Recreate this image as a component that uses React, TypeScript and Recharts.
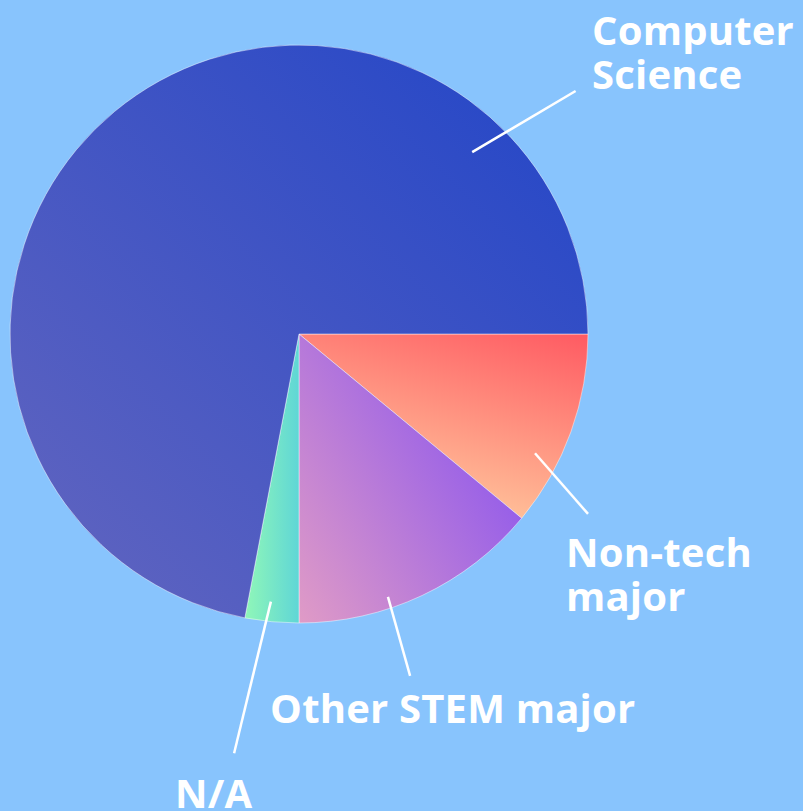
import React from 'react';
import { Cell, Pie, PieChart } from 'recharts';

// majors of respondents, clockwise from 3 o'clock
const categories = ['Non-tech major', 'Other STEM major', 'N/A', 'Computer Science'];
const shares = [11, 14, 3, 72];
const labelText: Record<string, string[]> = {
  'Non-tech major': ['Non-tech', 'major'],
  'Other STEM major': ['Other STEM major'],
  'N/A': ['N/A'],
  'Computer Science': ['Computer', 'Science'],
};

const data = categories.map((name, i) => ({ name, value: shares[i] }));

const gradients: Record<string, { id: string; x1: number; y1: number; x2: number; y2: number; from: string; to: string }> = {
  'Non-tech major': { id: 'gNonTech', x1: 1, y1: 0, x2: 0.55, y2: 1, from: '#ff5a62', to: '#ffc69c' },
  'Other STEM major': { id: 'gStem', x1: 1, y1: 0.25, x2: 0, y2: 1, from: '#8752f0', to: '#e09bc6' },
  'N/A': { id: 'gNA', x1: 0, y1: 0, x2: 1, y2: 0, from: '#90f7b8', to: '#5fd6d6' },
  'Computer Science': { id: 'gCS', x1: 0, y1: 1, x2: 1, y2: 0, from: '#6466bf', to: '#2145c8' },
};

// where each callout line starts/ends (angle in deg, radius as share of outerRadius) and text offset
const labelLayout: Record<string, { a0: number; r0: number; a1: number; r1: number; dx: number; dy: number }> = {
  'Non-tech major': { a0: -26.8, r0: 0.915, a1: -31.9, r1: 1.178, dx: -22, dy: 53 },
  'Other STEM major': { a0: -71.3, r0: 0.96, a1: -72.0, r1: 1.244, dx: -140, dy: 47 },
  'N/A': { a0: -96.0, r0: 0.931, a1: -98.8, r1: 1.468, dx: -59, dy: 55 },
  'Computer Science': { a0: 46.4, r0: 0.869, a1: 41.3, r1: 1.274, dx: 16.5, dy: -46 },
};

const RADIAN = Math.PI / 180;
const polar = (cx: number, cy: number, r: number, deg: number) => ({
  x: cx + r * Math.cos(-deg * RADIAN),
  y: cy + r * Math.sin(-deg * RADIAN),
});

const renderLabel = (props: any) => {
  const { cx, cy, outerRadius, index } = props;
  const name = categories[index];
  const cfg = labelLayout[name];
  const a = polar(cx, cy, outerRadius * cfg.r0, cfg.a0);
  const b = polar(cx, cy, outerRadius * cfg.r1, cfg.a1);
  const tx = b.x + cfg.dx;
  return (
    <g key={name}>
      <line x1={a.x} y1={a.y} x2={b.x} y2={b.y} stroke="#ffffff" strokeWidth={2.5} />
      <text
        x={tx}
        y={b.y + cfg.dy}
        fill="#ffffff"
        fontFamily="'Open Sans', sans-serif"
        fontWeight={700}
        fontSize={40}
        letterSpacing={0.2}
        textAnchor="start"
      >
        {labelText[name].map((line, i) => (
          <tspan key={line} x={tx} dy={i === 0 ? 0 : 44}>
            {line}
          </tspan>
        ))}
      </text>
    </g>
  );
};

const App = () => {
  return (
    <div
      style={{
        position: 'absolute',
        left: 0,
        top: 0,
        width: 803,
        height: 811,
        background: '#88c4fd',
        overflow: 'hidden',
      }}
    >
      <PieChart width={803} height={811} margin={{ top: 0, right: 0, bottom: 0, left: 0 }}>
        <defs>
          {categories.map((c) => {
            const g = gradients[c];
            return (
              <linearGradient key={g.id} id={g.id} x1={g.x1} y1={g.y1} x2={g.x2} y2={g.y2}>
                <stop offset="0%" stopColor={g.from} />
                <stop offset="100%" stopColor={g.to} />
              </linearGradient>
            );
          })}
        </defs>
        <Pie
          data={data}
          dataKey="value"
          nameKey="name"
          cx={299}
          cy={334}
          outerRadius={289}
          startAngle={0}
          endAngle={-360}
          label={renderLabel}
          labelLine={false}
          isAnimationActive={false}
        >
          {data.map((d) => (
            <Cell
              key={d.name}
              fill={`url(#${gradients[d.name].id})`}
              stroke="rgba(255,255,255,0.45)"
              strokeWidth={1}
            />
          ))}
        </Pie>
      </PieChart>
    </div>
  );
};

export default App;
